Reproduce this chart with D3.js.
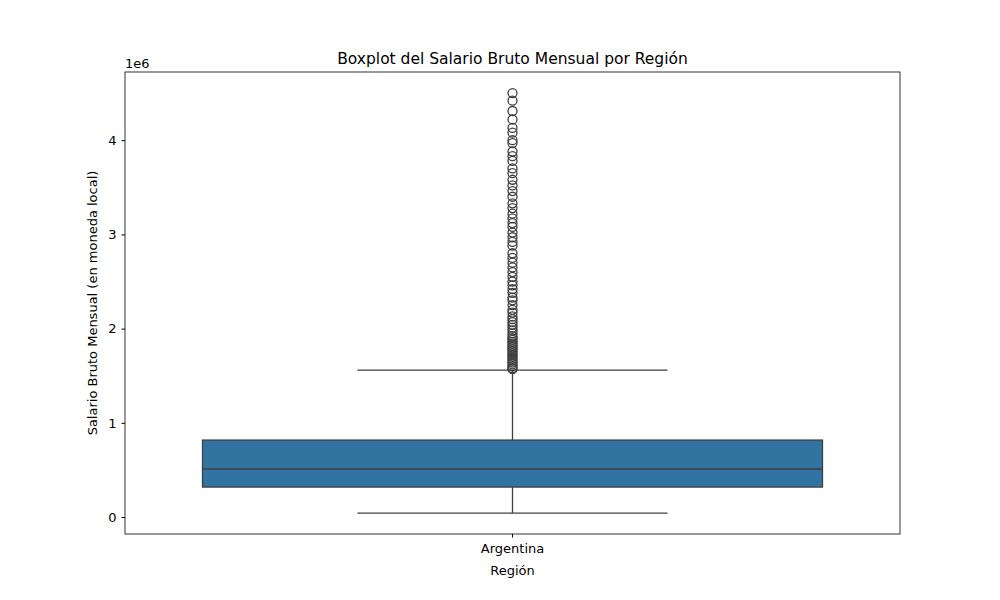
<!DOCTYPE html><html><head><meta charset="utf-8"><script src="https://cdn.jsdelivr.net/npm/d3@7"></script>
<style>body{margin:0;background:#fff}text{font-family:"DejaVu Sans",sans-serif}</style></head><body><svg width="1000" height="600"></svg>
<script>
const categories=["Argentina"];
const whiskerLow=[42000], q1=[318000], median=[510000], q3=[817000], whiskerHigh=[1560000];
const outliers=[4500000,4420000,4310000,4220000,4130000,4080000,4000000,3970000,3880000,3830000,3780000,3700000,3650000,3580000,3520000,3460000,3400000,3330000,3280000,3220000,3170000,3120000,3080000,3020000,2970000,2920000,2880000,2800000,2750000,2700000,2650000,2600000,2550000,2500000,2460000,2420000,2380000,2330000,2300000,2250000,2200000,2170000,2130000,2100000,2070000,2040000,2010000,1980000,1950000,1920000,1900000,1880000,1860000,1840000,1820000,1800000,1780000,1760000,1740000,1720000,1700000,1680000,1660000,1640000,1620000,1600000,1580000,1570000];
const yTicks=[0,1000000,2000000,3000000,4000000];
const L=125,R=900,T=72,B=534;
const svg=d3.select("svg");
const x=d3.scaleBand().domain(categories).range([L,R]).padding(0);
const y=d3.scaleLinear().domain([-180000,4724000]).range([B,T]);
const ink="#3f3f3f";
categories.forEach((c,i)=>{
 const cx=x(c)+x.bandwidth()/2, bw=x.bandwidth()*0.8, x0=cx-bw/2, cw=bw/2;
 svg.append("line").attr("x1",cx).attr("x2",cx).attr("y1",y(whiskerLow[i])).attr("y2",y(q1[i])).attr("stroke",ink).attr("stroke-width",1.3);
 svg.append("line").attr("x1",cx).attr("x2",cx).attr("y1",y(q3[i])).attr("y2",y(whiskerHigh[i])).attr("stroke",ink).attr("stroke-width",1.3);
 [whiskerLow[i],whiskerHigh[i]].forEach(v=>svg.append("line").attr("x1",cx-cw/2).attr("x2",cx+cw/2).attr("y1",y(v)).attr("y2",y(v)).attr("stroke",ink).attr("stroke-width",1.3));
 svg.append("rect").attr("x",x0).attr("width",bw).attr("y",y(q3[i])).attr("height",y(q1[i])-y(q3[i])).attr("fill","#3274a1").attr("stroke",ink).attr("stroke-width",1.3);
 svg.append("line").attr("x1",x0).attr("x2",x0+bw).attr("y1",y(median[i])).attr("y2",y(median[i])).attr("stroke",ink).attr("stroke-width",1.3);
 svg.selectAll(null).data(outliers).enter().append("circle").attr("cx",cx).attr("cy",d=>y(d)).attr("r",4.5).attr("fill","none").attr("stroke",ink).attr("stroke-width",1.3);
});
svg.append("rect").attr("x",L).attr("y",T).attr("width",R-L).attr("height",B-T).attr("fill","none").attr("stroke","#000").attr("stroke-width",0.8);
const ya=svg.append("g").attr("transform",`translate(${L},0)`).call(d3.axisLeft(y).tickValues(yTicks).tickFormat(d=>d/1e6).tickSize(3.5).tickPadding(5));
const xa=svg.append("g").attr("transform",`translate(0,${B})`).call(d3.axisBottom(x).tickSize(3.5).tickPadding(6));
[ya,xa].forEach(a=>{a.select(".domain").remove();a.selectAll("text").attr("font-size",13).attr("fill","#000").style("font-family","DejaVu Sans");});
svg.append("text").attr("x",L).attr("y",68).attr("font-size",13).text("1e6");
svg.append("text").attr("x",(L+R)/2).attr("y",64).attr("text-anchor","middle").attr("font-size",15.5).text("Boxplot del Salario Bruto Mensual por Región");
svg.append("text").attr("x",(L+R)/2).attr("y",575).attr("text-anchor","middle").attr("font-size",13).text("Región");
svg.append("text").attr("transform",`translate(97,${(T+B)/2}) rotate(-90)`).attr("text-anchor","middle").attr("font-size",13).text("Salario Bruto Mensual (en moneda local)");
</script></body></html>
